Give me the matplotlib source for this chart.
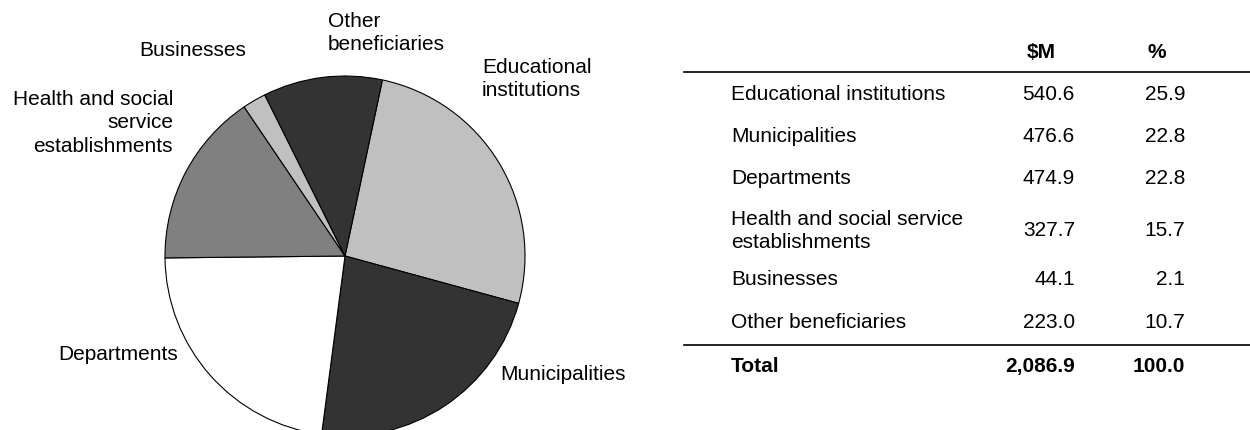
import matplotlib
matplotlib.use("Agg")
import matplotlib.pyplot as plt
from matplotlib.lines import Line2D

plt.rcParams["font.family"] = ["Liberation Sans", "DejaVu Sans"]

# data
pie_labels = ["Educational\ninstitutions", "Municipalities", "Departments",
              "Health and social\nservice\nestablishments", "Businesses",
              "Other\nbeneficiaries"]
table_labels = ["Educational institutions", "Municipalities", "Departments",
                "Health and social service\nestablishments", "Businesses",
                "Other beneficiaries"]
amounts = [540.6, 476.6, 474.9, 327.7, 44.1, 223.0]
percents = [25.9, 22.8, 22.8, 15.7, 2.1, 10.7]
total_amount = "2,086.9"
total_percent = "100.0"
slice_colors = ["#c0c0c0", "#333333", "#ffffff", "#808080", "#c0c0c0", "#333333"]

W, H = 1250, 431
fig = plt.figure(figsize=(W / 100, H / 100), dpi=100)


def fx(x):
    return x / W


def fy(y):
    return 1 - y / H


FS = 15
LS = 1.32

# pie: center (345, 257), radius 180 px
cx, cy, r = 345, 257, 180
ax = fig.add_axes([fx(cx - r), fy(cy + r), 2 * r / W, 2 * r / H])
ax.pie(amounts, colors=slice_colors, startangle=78, counterclock=False,
       radius=1, wedgeprops=dict(edgecolor="black", linewidth=0.8))
ax.set_xlim(-1, 1)
ax.set_ylim(-1, 1)
ax.set_aspect("equal")
ax.axis("off")

# label placement (pixel positions, alignment)
label_pos = [
    (482, 79, "left", "center"),
    (500, 374, "left", "center"),
    (178, 355, "right", "center"),
    (173, 123, "right", "center"),
    (193, 50, "center", "center"),
    (328, 33, "left", "center"),
]
for lab, (x, y, ha, va) in zip(pie_labels, label_pos):
    fig.text(fx(x), fy(y), lab, ha=ha, va=va, multialignment=ha,
             fontsize=FS, linespacing=LS)

# table
col_label = 731
col_amt = 1075
col_pct = 1185
fig.text(fx(1027), fy(53), "$M", ha="left", va="center", fontsize=FS,
         fontweight="bold", parse_math=False)
fig.text(fx(1147), fy(53), "%", ha="left", va="center", fontsize=FS,
         fontweight="bold")

row_y = [95, 137, 179, 231, 280, 323]
for lab, amt, pct, y in zip(table_labels, amounts, percents, row_y):
    fig.text(fx(col_label), fy(y), lab, ha="left", va="center", fontsize=FS,
             linespacing=LS)
    fig.text(fx(col_amt), fy(y), f"{amt:.1f}", ha="right", va="center", fontsize=FS)
    fig.text(fx(col_pct), fy(y), f"{pct:.1f}", ha="right", va="center", fontsize=FS)

fig.text(fx(col_label), fy(367), "Total", ha="left", va="center",
         fontsize=FS, fontweight="bold")
fig.text(fx(col_amt), fy(367), total_amount, ha="right", va="center",
         fontsize=FS, fontweight="bold")
fig.text(fx(col_pct), fy(367), total_percent, ha="right", va="center",
         fontsize=FS, fontweight="bold")

for y in (73, 346):
    fig.add_artist(Line2D([fx(684), 1.0], [fy(y), fy(y)], color="black",
                          linewidth=1.2, transform=fig.transFigure))

fig.savefig("out.png", dpi=100)
